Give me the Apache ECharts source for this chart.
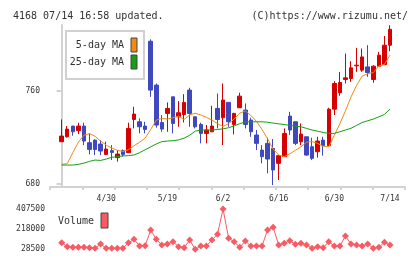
<!DOCTYPE html>
<html>
<head>
<meta charset="utf-8">
<script src="https://cdn.jsdelivr.net/npm/echarts@6/dist/echarts.min.js"></script>
<style>
  html, body { margin: 0; padding: 0; background: #fff; }
  #chart { width: 420px; height: 259px; }
</style>
</head>
<body>
<div id="chart"></div>
<script>
var dates = ['4/17','4/18','4/21','4/22','4/23','4/24','4/25','4/28','4/30','5/1',
  '5/2','5/7','5/8','5/9','5/12','5/13','5/14','5/15','5/16','5/19',
  '5/20','5/21','5/22','5/23','5/26','5/27','5/28','5/29','5/30','6/2',
  '6/3','6/4','6/5','6/6','6/9','6/10','6/11','6/12','6/13','6/16',
  '6/17','6/18','6/19','6/20','6/23','6/24','6/25','6/26','6/27','6/30',
  '7/1','7/2','7/3','7/4','7/7','7/8','7/9','7/10','7/11','7/14'];

var opens = [716.4,720.7,729.9,725.9,729.9,715.6,717.8,714.4,705.5,708.7,
  702.7,708.7,707.0,735.6,733.6,729.9,803.0,765.2,733.0,740.8,
  755.1,737.9,739.9,760.9,737.9,731.3,723.6,725.0,745.1,737.1,
  750.3,731.3,745.7,743.7,735.1,722.2,709.2,715.0,710.7,697.8,
  703.5,738.5,733.6,716.4,720.7,712.1,707.8,717.8,713.0,744.5,
  758.6,770.0,770.9,781.8,778.1,780.9,770.0,781.5,782.9,799.6];
var closes = [721.3,727.3,725.0,729.9,717.0,709.8,709.8,708.4,710.1,707.2,
  705.8,705.5,727.9,740.2,729.3,727.0,760.9,730.8,727.3,745.1,
  732.2,741.4,750.3,740.8,729.3,723.6,726.5,729.9,735.6,752.3,
  733.6,740.8,755.7,731.3,725.0,715.0,703.5,701.5,692.1,704.4,
  723.6,726.5,715.0,723.0,704.9,702.1,717.0,713.0,744.5,766.6,
  767.5,771.5,780.1,782.4,789.5,776.1,781.5,791.0,799.6,813.3];
var lows = [716.4,719.9,721.6,723.0,713.5,705.5,704.9,704.9,704.9,700.6,
  699.2,703.5,707.0,727.9,723.6,723.6,755.1,728.5,725.0,725.0,
  723.6,729.3,733.0,729.3,727.9,715.0,715.0,725.0,727.9,713.5,
  729.3,722.7,745.7,727.9,720.7,709.2,697.8,689.2,679.1,683.4,
  703.5,722.2,713.5,713.5,704.4,700.6,702.7,704.4,713.0,739.4,
  756.0,766.6,768.0,776.6,776.6,772.3,767.2,780.9,782.4,794.4];
var highs = [735.6,729.9,729.9,732.8,732.8,723.6,718.4,717.8,716.4,713.5,
  709.2,709.8,732.8,746.5,736.5,733.6,804.7,766.6,739.4,750.3,
  755.1,751.4,757.4,762.9,737.9,732.8,730.8,747.4,758.0,766.6,
  750.3,741.4,758.6,749.4,737.1,726.5,713.5,719.9,718.7,704.9,
  727.9,742.2,733.6,732.2,720.7,719.9,720.7,720.7,745.7,768.6,
  776.6,792.4,785.8,797.3,796.7,799.6,782.4,793.8,807.6,816.8];

var ma5 = [697,697.5,707,716,722,723.5,721,717,713.5,711,
  709,708,709.5,713,716,719.5,727,735,736.5,736,
  737,738.5,735.5,739.5,741,739.5,737.5,735,732,729.5,
  732,736,741,743,739,734,727,719,710,705,
  703.5,706,709,712,716,716.5,715,712.5,712,722,
  732,743,755,765,773,775,776,781.5,783,791];
var ma25 = [696.3,696.3,696.3,696.9,698,699.5,700.6,700.3,701.5,703,
  703.5,704.2,704.4,705,707,709.5,712,714.5,716.5,717,
  717.3,718,719.5,722,725.5,726.5,726.5,726.5,727,727.5,
  728.5,730,732,733.5,733.6,733.6,733.6,733.2,732.5,731.8,
  731.3,730.5,729.8,729.3,727.9,726.5,725.5,724.4,723.6,723.6,
  725,726.5,728,730.5,733,734.5,735.9,737.9,739.9,744.5];

var volumes = [90600,53000,47300,47300,47300,43500,38000,78300,38000,38000,
  38000,38000,90600,122500,59500,62400,210000,122500,69000,78300,
  100000,53000,43500,116000,28500,59500,59500,116000,169600,407500,
  132000,100000,47300,106600,59500,59500,59500,210000,235400,69000,
  85000,109400,75500,85000,69000,38000,53000,43500,100000,59500,
  59500,153600,78300,69000,59500,78300,38000,47300,94300,69000];

var priceTicks = [680, 760];
var volTicks = [28500, 218000, 407500];
var dateLabelIdx = [8, 19, 29, 39, 49, 59];

var chart = echarts.init(document.getElementById('chart'));

var X_MIN = -2.1, X_MAX = 61.7;
var xTicks = [];
for (var k = 0; k <= 11; k++) xTicks.push(X_MIN + k * (X_MAX - X_MIN) / 11);

var mono = 'DejaVu Sans Mono';
var axisGray = '#d2d2d2';
var red = '#d70000', blue = '#3f48bf';
var orange = '#f08c14', green = '#14a014', volRed = '#f75c64';

function pairs(arr) {
  return arr.map(function (v, i) { return [i, v]; });
}
var candles = opens.map(function (o, i) {
  return [i, o, closes[i], lows[i], highs[i]];
});

option = {
  animation: false,
  backgroundColor: '#fff',
  title: [{
    text: '4168 07/14 16:58 updated.',
    left: 8, top: 6,
    textStyle: { fontFamily: mono, fontSize: 10, fontWeight: 'normal', color: '#333' }
  }, {
    text: '(C)https://www.rizumu.net/',
    right: 7, top: 6,
    textStyle: { fontFamily: mono, fontSize: 10, fontWeight: 'normal', color: '#333' }
  }],
  grid: [
    { left: 50, right: 15, top: 25, height: 162 },
    { left: 50, right: 15, top: 209, height: 40.3 }
  ],
  xAxis: [{
    type: 'value', gridIndex: 0, min: X_MIN, max: X_MAX,
    axisLine: { lineStyle: { color: axisGray, width: 2 } },
    axisTick: { customValues: xTicks, length: 3, lineStyle: { color: axisGray, width: 2 } },
    axisLabel: {
      customValues: dateLabelIdx,
      formatter: function (v) { return dates[Math.round(v)]; },
      fontFamily: mono, fontSize: 8, color: '#333', margin: 8
    },
    splitLine: { show: false }
  }, {
    type: 'value', gridIndex: 1, min: X_MIN, max: X_MAX, show: false
  }],
  yAxis: [{
    type: 'value', gridIndex: 0, min: 677.4, max: 817,
    axisLine: { show: true, lineStyle: { color: axisGray, width: 2 } },
    axisTick: { show: true, customValues: priceTicks, length: 5, lineStyle: { color: axisGray, width: 2 } },
    axisLabel: {
      customValues: priceTicks,
      formatter: function (v) { return String(v); },
      fontFamily: mono, fontSize: 8, color: '#333', margin: 10
    },
    splitLine: { show: false }
  }, {
    type: 'value', gridIndex: 1, min: 28500, max: 407500,
    axisLine: { show: false },
    axisTick: { show: false },
    axisLabel: {
      customValues: volTicks,
      formatter: function (v) { return String(Math.round(v)); },
      fontFamily: mono, fontSize: 8, color: '#333', margin: 5
    },
    splitLine: { show: false }
  }],
  series: [{
    name: 'price',
    type: 'candlestick',
    xAxisIndex: 0, yAxisIndex: 0,
    data: candles,
    encode: { x: 0, y: [1, 2, 3, 4] },
    barWidth: 4,
    itemStyle: {
      color: red, color0: blue,
      borderColor: red, borderColor0: blue, borderWidth: 1
    }
  }, {
    name: '5-day MA',
    type: 'line',
    xAxisIndex: 0, yAxisIndex: 0,
    data: pairs(ma5),
    showSymbol: false,
    lineStyle: { color: orange, width: 1 },
    z: 3
  }, {
    name: '25-day MA',
    type: 'line',
    xAxisIndex: 0, yAxisIndex: 0,
    data: pairs(ma25),
    showSymbol: false,
    lineStyle: { color: green, width: 1 },
    z: 3
  }, {
    name: 'Volume',
    type: 'line',
    xAxisIndex: 1, yAxisIndex: 1,
    data: pairs(volumes),
    symbol: 'diamond',
    symbolSize: 7,
    itemStyle: { color: volRed },
    lineStyle: { color: volRed, width: 1 }
  }],
  graphic: [
    // legend box for MAs
    { type: 'rect', left: 65, top: 30, shape: { width: 78, height: 48 },
      style: { fill: '#fff', stroke: '#d0d0d0', lineWidth: 2 }, z: 10 },
    { type: 'text', x: 124, y: 45, z: 11,
      style: { text: '5-day MA', font: '10px ' + mono, fill: '#333', align: 'right', verticalAlign: 'middle' } },
    { type: 'rect', x: 131, y: 38, z: 11, shape: { width: 6, height: 14 },
      style: { fill: orange, stroke: '#444', lineWidth: 1 } },
    { type: 'text', x: 124, y: 62, z: 11,
      style: { text: '25-day MA', font: '10px ' + mono, fill: '#333', align: 'right', verticalAlign: 'middle' } },
    { type: 'rect', x: 131, y: 55, z: 11, shape: { width: 6, height: 14 },
      style: { fill: green, stroke: '#444', lineWidth: 1 } },
    // volume legend
    { type: 'text', x: 58, y: 221, z: 11,
      style: { text: 'Volume', font: '10px ' + mono, fill: '#333', align: 'left', verticalAlign: 'middle' } },
    { type: 'rect', x: 101, y: 213, z: 11, shape: { width: 7, height: 15 },
      style: { fill: volRed, stroke: '#444', lineWidth: 1 } }
  ]
};
chart.setOption(option);

window.onresize = function () {
  chart.resize();
};
</script>
</body>
</html>
